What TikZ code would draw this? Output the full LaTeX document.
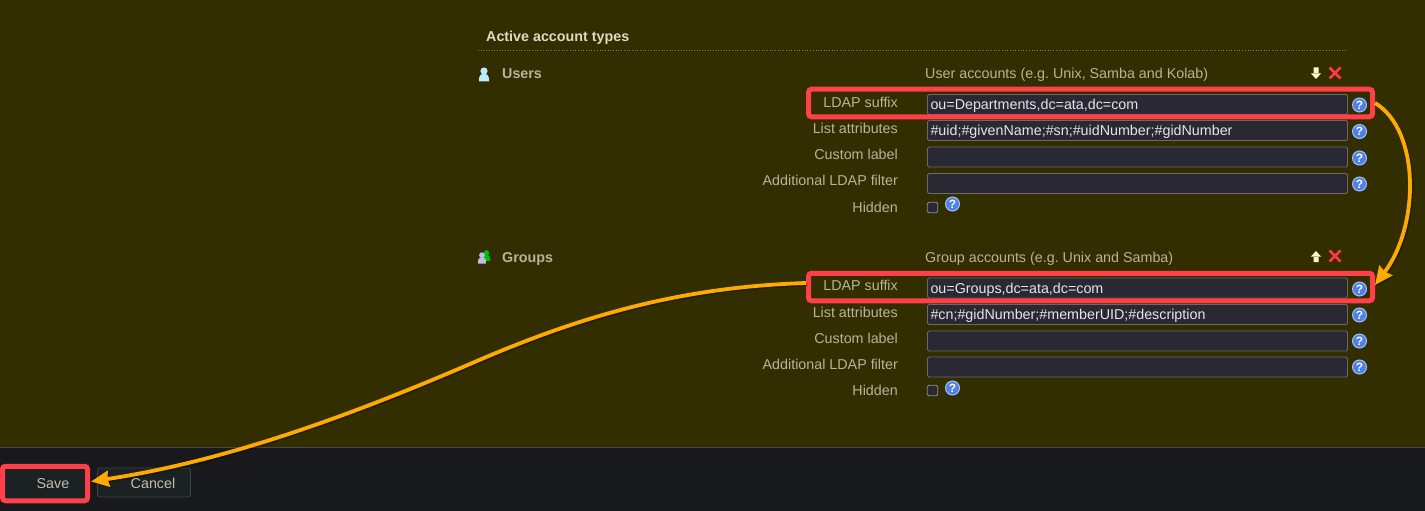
\documentclass[tikz,border=0pt]{standalone}
\usepackage{fontspec}
\setmainfont{Liberation Sans}
\usetikzlibrary{arrows.meta}
\definecolor{pagebg}{HTML}{332E00}
\definecolor{panelbg}{HTML}{17191D}
\definecolor{savebg}{HTML}{1C2124}
\definecolor{inputbg}{HTML}{2A2833}
\definecolor{inputedge}{HTML}{6A6A68}
\definecolor{labeltxt}{HTML}{B8B49C}
\definecolor{headtxt}{HTML}{DDD9C4}
\definecolor{marker}{HTML}{FF4048}
\definecolor{flow}{HTML}{FFAA00}
\definecolor{helpblue}{HTML}{4F80E6}
\tikzset{
  labeltext/.style={anchor=base east,inner sep=0pt,text=labeltxt,font=\fontsize{14.3}{16}\selectfont},
  plaintext/.style={anchor=base west,inner sep=0pt,text=labeltxt,font=\fontsize{14.3}{16}\selectfont},
  grouptext/.style={anchor=base west,inner sep=0pt,text=labeltxt,font=\fontsize{14.3}{16}\selectfont\bfseries},
  inputbox/.style={draw=inputedge,fill=inputbg,rounded corners=1.5pt,line width=.9pt,
    minimum width=420pt,minimum height=20pt,inner sep=2.5pt,text width=414pt,align=left,
    text height=12pt,text depth=2pt,text=white!90!black,font=\fontsize{14.3}{16}\selectfont},
  helpicon/.style={circle,draw=helpblue!50!white,fill=helpblue,line width=1pt,minimum size=14pt,
    inner sep=0pt,text=white,font=\fontsize{12}{12}\selectfont\bfseries},
  checkbox/.style={draw=gray!90!white,fill=inputbg,rounded corners=1.5pt,line width=.9pt,
    minimum size=10.5pt,inner sep=0pt},
  markbox/.style={draw=marker,rounded corners=3pt,line width=5pt,inner sep=0pt},
  flowarrow/.style={draw=flow,line width=3.8pt,-{Stealth[length=18pt,width=16pt,inset=1.5pt]},
    preaction={draw=black,opacity=.3,line width=3.8pt,transform canvas={shift={(1.5pt,-1.5pt)}}}}
}
\begin{document}
\begin{tikzpicture}[x=1pt,y=-1pt]
  \frenchspacing
  \def\person#1#2#3#4{
    \fill[#3,shift={(#1,#2)},scale=#4] (0,-3.5) circle [radius=3.6];
    \fill[#3,shift={(#1,#2)},scale=#4] (-5,7) .. controls (-5.5,0) and (-2,-1) .. (0,-1)
      .. controls (2,-1) and (5.5,0) .. (5,7) -- cycle;
  }
  \def\cross#1#2{
    \draw[marker!90!red,line width=2.8pt] (#1-5.5,#2-5.5) -- (#1+5.5,#2+5.5)
      (#1-5.5,#2+5.5) -- (#1+5.5,#2-5.5);
  }
  \useasboundingbox (0,0) rectangle (1425,511);
  \fill[pagebg] (0,0) rectangle (1425,511);
  \fill[panelbg] (0,447) rectangle (1425,511);
  \draw[gray!45!panelbg,line width=.8pt] (0,447) -- (1425,447);

  \node[anchor=base west,inner sep=0pt,text=headtxt,font=\fontsize{14.3}{16}\selectfont\bfseries] (activehead) at (486,42) {Active account types};
  \draw[labeltxt!60!pagebg,line width=.7pt,dotted] (478,50) -- (1346,50);

  % users
  \person{484}{74.5}{cyan!25!white}{1}
  \node[grouptext] (userstitle) at (502,78) {Users};
  \node[plaintext] (usersnote) at (925,78) {User accounts (e.g. Unix, Samba and Kolab)};
  \fill[yellow!20!white] (1313.5,67.5) rectangle (1318.5,74) (1311,73.5) -- (1321,73.5) -- (1316,79) -- cycle;
  \cross{1335}{73}

  \node[labeltext] (usersuffix) at (898,107) {LDAP suffix};
  \node[labeltext] (userlist) at (898,133) {List attributes};
  \node[labeltext] (userlabel) at (898,159) {Custom label};
  \node[labeltext] (userfilter) at (898,185) {Additional LDAP filter};
  \node[labeltext] (userhidden) at (898,212) {Hidden};

  \node[inputbox] (usersuffixin) at (1137.5,104.5) {ou=Departments,dc=ata,dc=com};
  \node[inputbox] (userlistin) at (1137.5,130.5) {\#uid;\#givenName;\#sn;\#uidNumber;\#gidNumber};
  \node[inputbox] (userlabelin) at (1137.5,157) {};
  \node[inputbox] (userfilterin) at (1137.5,183.5) {};
  \node[checkbox] (usercheck) at (932.5,207.5) {};

  \node[helpicon] (userhelpa) at (1359.5,105) {?};
  \node[helpicon] (userhelpb) at (1359.5,131.5) {?};
  \node[helpicon] (userhelpc) at (1359.5,158) {?};
  \node[helpicon] (userhelpd) at (1359.5,184) {?};
  \node[helpicon] (userhelpe) at (952.5,204) {?};

  % groups
  \person{486.5}{255.5}{green!75!black}{.75}
  \person{482}{258}{cyan!20!blue!25!white}{.8}
  \node[grouptext] (groupstitle) at (502,262) {Groups};
  \node[plaintext] (groupsnote) at (925,262) {Group accounts (e.g. Unix and Samba)};
  \fill[yellow!20!white] (1313.5,262) rectangle (1318.5,256) (1311,256.5) -- (1321,256.5) -- (1316,251) -- cycle;
  \cross{1335}{256}

  \node[labeltext] (groupsuffix) at (898,290) {LDAP suffix};
  \node[labeltext] (grouplist) at (898,317) {List attributes};
  \node[labeltext] (grouplabel) at (898,343) {Custom label};
  \node[labeltext] (groupfilter) at (898,369) {Additional LDAP filter};
  \node[labeltext] (grouphidden) at (898,395) {Hidden};

  \node[inputbox] (groupsuffixin) at (1137.5,288) {ou=Groups,dc=ata,dc=com};
  \node[inputbox] (grouplistin) at (1137.5,314.5) {\#cn;\#gidNumber;\#memberUID;\#description};
  \node[inputbox] (grouplabelin) at (1137.5,341) {};
  \node[inputbox] (groupfilterin) at (1137.5,367) {};
  \node[checkbox] (groupcheck) at (932.5,390.5) {};

  \node[helpicon] (grouphelpa) at (1359.5,289) {?};
  \node[helpicon] (grouphelpb) at (1359.5,315) {?};
  \node[helpicon] (grouphelpc) at (1359.5,341) {?};
  \node[helpicon] (grouphelpd) at (1359.5,367) {?};
  \node[helpicon] (grouphelpe) at (952.5,388) {?};

  % buttons
  \node[draw=gray!40!panelbg,fill=savebg,rounded corners=2pt,line width=.8pt,minimum width=93pt,minimum height=29pt,inner sep=0pt] (cancelbtn) at (144,482.5) {};
  \node[anchor=base,inner sep=0pt,text=labeltxt!85!white,font=\fontsize{14.3}{16}\selectfont] (canceltxt) at (153,488) {Cancel};

  % markers
  \node[markbox,minimum width=564pt,minimum height=27.5pt] (usersmark) at (1090.5,103) {};
  \node[markbox,minimum width=564pt,minimum height=27.5pt] (groupsmark) at (1090.5,287) {};
  \node[markbox,fill=savebg,minimum width=85pt,minimum height=34.5pt] (savemark) at (45,483.5) {};
  \node[anchor=base,inner sep=0pt,text=labeltxt!85!white,font=\fontsize{14.3}{16}\selectfont] (savetxt) at (53,488) {Save};

  \draw[flowarrow] (usersmark.east) .. controls (1420,130) and (1420,225) .. ([yshift=2pt]groupsmark.east);
  \draw[flowarrow] ([yshift=4pt]groupsmark.west) .. controls (680,287) and (580,316) .. (470,364)
    .. controls (340,420) and (220,462) .. ([xshift=1pt,yshift=2pt]savemark.east);
\end{tikzpicture}
\end{document}
